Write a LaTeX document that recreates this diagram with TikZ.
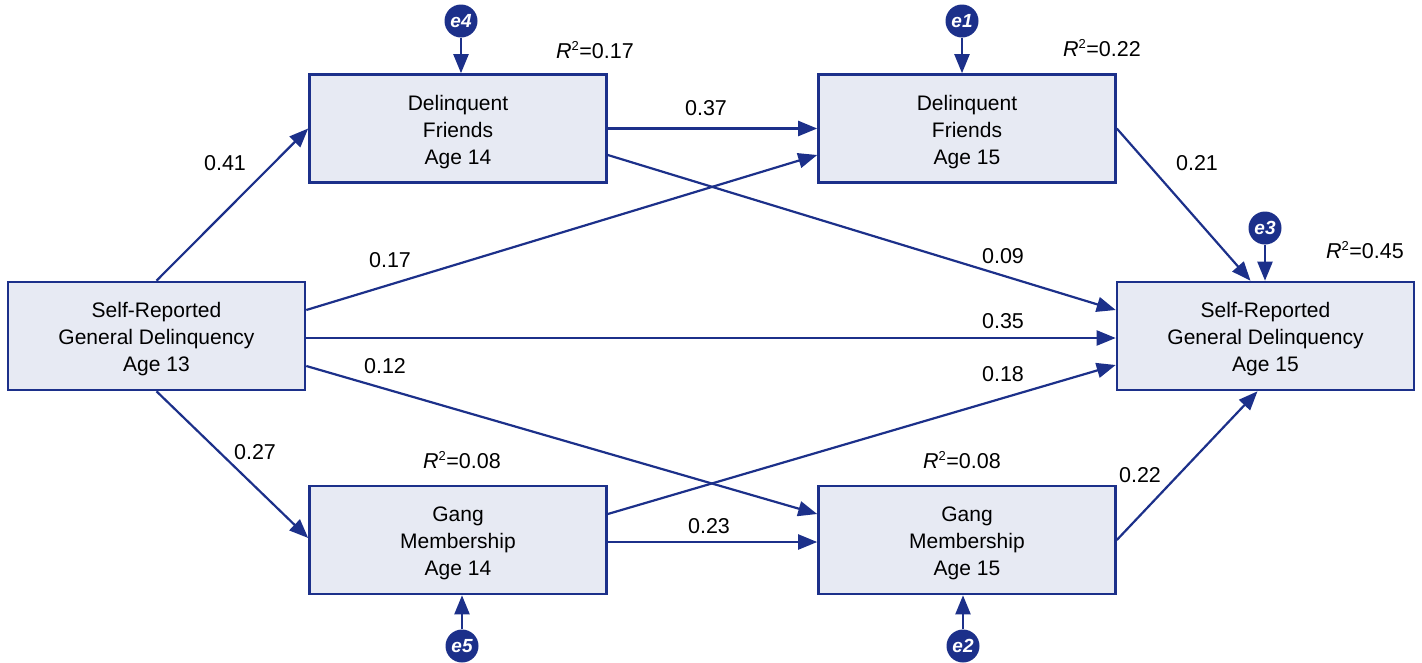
\documentclass[tikz,border=0pt]{standalone}
\usepackage{fontspec}
\setmainfont{Liberation Sans}
\usetikzlibrary{arrows.meta,calc}
\definecolor{navy}{RGB}{28,48,138}
\definecolor{boxfill}{RGB}{231,234,243}
\newcommand{\rsq}[1]{\textit{R}\textsuperscript{\fontsize{13}{13}\selectfont 2}=#1}
\begin{document}
\begin{tikzpicture}[x=1pt,y=-1pt,
    var/.style={draw=navy,line width=2.6pt,fill=boxfill,align=center,
                minimum width=297pt,minimum height=108pt,inner sep=0pt,
                font=\fontsize{21}{27}\selectfont},
    err/.style={circle,fill=navy,text=white,inner sep=0pt,minimum size=33pt,
                font=\fontsize{19}{19}\selectfont\bfseries\itshape},
    path/.style={draw=navy,line width=2.2pt,-{Triangle[length=19pt,width=15pt]}},
    coef/.style={font=\fontsize{21.5}{21.5}\selectfont}]
  \useasboundingbox (0,0) rectangle (1422,662);
  % observed variables
  \node[var] (sr13) at (156.5,336) {\rule{0pt}{22pt}Self-Reported\\General Delinquency\\Age 13};
  \node[var] (df14) at (458,128.5) {\rule{0pt}{22pt}Delinquent\\Friends\\Age 14};
  \node[var] (df15) at (967,128.5) {\rule{0pt}{22pt}Delinquent\\Friends\\Age 15};
  \node[var] (sr15) at (1265.5,336) {\rule{0pt}{22pt}Self-Reported\\General Delinquency\\Age 15};
  \node[var] (gm14) at (458,540) {\rule{0pt}{22pt}Gang\\Membership\\Age 14};
  \node[var] (gm15) at (967,540) {\rule{0pt}{22pt}Gang\\Membership\\Age 15};
  % error terms
  \node[err] (e4) at (461,21) {e4};
  \node[err] (e1) at (962,21) {e1};
  \node[err] (e3) at (1265,228) {e3};
  \node[err] (e5) at (462,646) {e5};
  \node[err] (e2) at (963,646) {e2};
  \draw[path] (e4) -- (e4 |- df14.north);
  \draw[path] (e1) -- (e1 |- df15.north);
  \draw[path] (e3) -- (e3 |- sr15.north);
  \draw[path] (e5) -- (e5 |- gm14.south);
  \draw[path] (e2) -- (e2 |- gm15.south);
  % paths
  \draw[path] (sr13.north) -- (df14.west);
  \draw[path] ($(sr13.east)+(0,-26)$) -- ($(df15.west)+(0,26.5)$);
  \draw[path] ($(sr13.east)+(0,2)$) -- ($(sr15.west)+(0,2)$);
  \draw[path] ($(sr13.east)+(0,30)$) -- ($(gm15.west)+(0,-26)$);
  \draw[path] (sr13.south) -- ($(gm14.west)+(0,-2)$);
  \draw[path] (df14.east) -- (df15.west);
  \draw[path] ($(df14.east)+(0,26.5)$) -- ($(sr15.west)+(0,-26)$);
  \draw[path] (df15.east) -- ($(sr15.north)+(-15,0)$);
  \draw[path] ($(gm14.east)+(0,-26)$) -- ($(sr15.west)+(0,29)$);
  \draw[path] ($(gm14.east)+(0,2)$) -- ($(gm15.west)+(0,2)$);
  \draw[path] (gm15.east) -- ($(sr15.south)+(-8,0)$);
  % coefficients
  \node[coef] (c41) at (225,163) {0.41};
  \node[coef] (c17) at (390,260) {0.17};
  \node[coef] (c35) at (1003,321) {0.35};
  \node[coef] (c12) at (385,366) {0.12};
  \node[coef] (c27) at (255,452) {0.27};
  \node[coef] (c37) at (706,108) {0.37};
  \node[coef] (c09) at (1003,256) {0.09};
  \node[coef] (c21) at (1197,163) {0.21};
  \node[coef] (c18) at (1003,374) {0.18};
  \node[coef] (c23) at (709,526) {0.23};
  \node[coef] (c22) at (1140,475) {0.22};
  % explained variance
  \node[coef] (rdf14) at (595,50) {\rsq{0.17}};
  \node[coef] (rdf15) at (1102,48) {\rsq{0.22}};
  \node[coef] (rsr15) at (1365,250) {\rsq{0.45}};
  \node[coef] (rgm14) at (462,460) {\rsq{0.08}};
  \node[coef] (rgm15) at (962,460) {\rsq{0.08}};
\end{tikzpicture}
\end{document}
